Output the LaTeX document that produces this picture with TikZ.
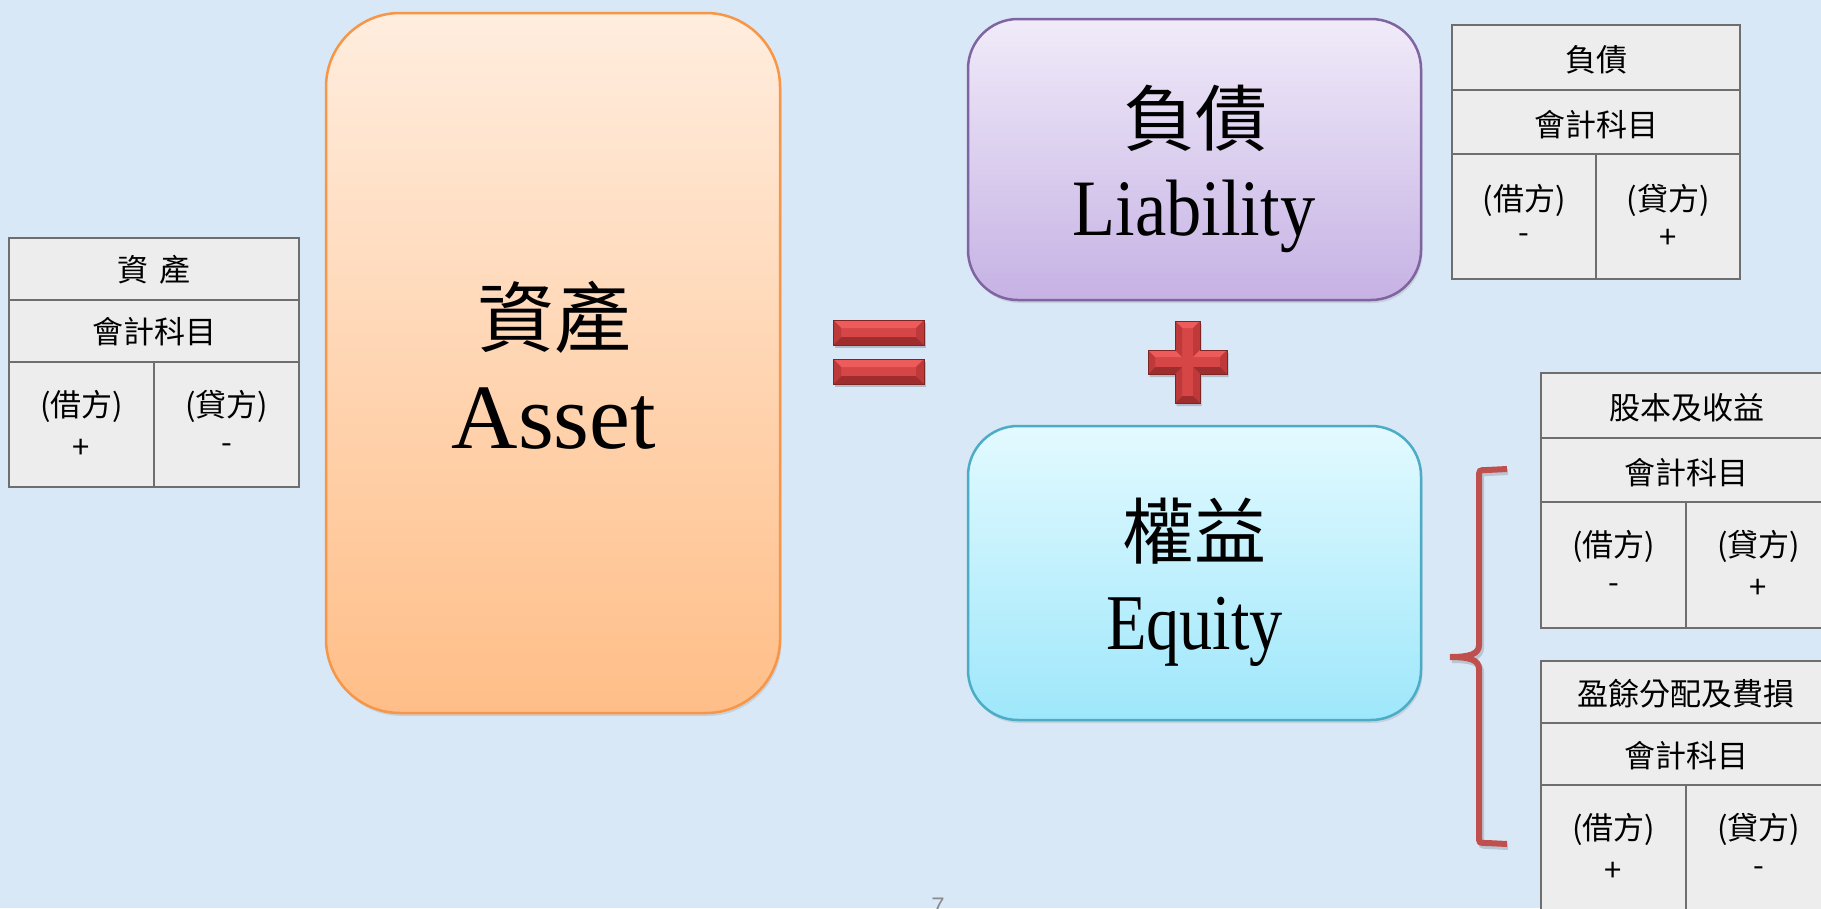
\documentclass[tikz,border=0pt]{standalone}
\usepackage{fontspec}
\newfontfamily\cjkfont{Noto Sans CJK TC}
\newfontfamily\latfont{Liberation Serif}
\newfontfamily\pagefont{Liberation Sans}
\usetikzlibrary{calc,shadows}
\definecolor{bg}{RGB}{217,232,247}
\definecolor{assettop}{RGB}{255,237,222}
\definecolor{assetbot}{RGB}{255,190,136}
\definecolor{assetline}{RGB}{247,150,70}
\definecolor{libtop}{RGB}{240,235,249}
\definecolor{libbot}{RGB}{198,178,228}
\definecolor{libline}{RGB}{128,100,162}
\definecolor{eqtop}{RGB}{227,250,255}
\definecolor{eqbot}{RGB}{158,231,251}
\definecolor{eqline}{RGB}{75,172,198}
\definecolor{cellfill}{RGB}{237,237,237}
\definecolor{cellline}{RGB}{110,110,110}
\definecolor{bracered}{RGB}{192,80,77}
\definecolor{bvlightc}{RGB}{238,91,91}
\definecolor{bvfacec}{RGB}{214,70,70}
\definecolor{bvsidec}{RGB}{190,58,58}
\definecolor{bvdarkc}{RGB}{160,45,45}
\definecolor{bvlinec}{RGB}{126,37,37}
\definecolor{pagegray}{RGB}{140,140,140}
\tikzset{
  bigbox/.style={rectangle, line width=2.5pt, inner sep=0pt,
    drop shadow={opacity=0.22, shadow xshift=1.5pt, shadow yshift=-3pt}},
  assetbox/.style={bigbox, rounded corners=74pt, draw=assetline,
    top color=assettop, bottom color=assetbot,
    minimum width=454pt, minimum height=700pt},
  libbox/.style={bigbox, rounded corners=50pt, draw=libline,
    top color=libtop, bottom color=libbot,
    minimum width=453pt, minimum height=281pt},
  eqbox/.style={bigbox, rounded corners=50pt, draw=eqline,
    top color=eqtop, bottom color=eqbot,
    minimum width=453pt, minimum height=294pt},
  cell/.style={rectangle, draw=cellline, fill=cellfill, line width=2.5pt, inner sep=0pt},
  wide/.style={cell, minimum width=290pt},
  half/.style={cell, minimum width=145pt, minimum height=125pt},
  txt/.style={inner sep=0pt, font={\cjkfont\fontsize{31pt}{31pt}\selectfont}},
  bigzh/.style={inner sep=0pt, font={\cjkfont\fontsize{72pt}{72pt}\selectfont}},
  bigen/.style={inner sep=0pt, anchor=base},
  brace/.style={draw=bracered, line width=6pt},
  bvface/.style={fill=bvfacec},
  bvlight/.style={fill=bvlightc},
  bvside/.style={fill=bvsidec},
  bvdark/.style={fill=bvdarkc},
  bvline/.style={draw=bvlinec, line width=0.8pt},
  bvshadow/.style={fill=black, opacity=0.18}
}
\newcommand\bevelrect[4]{%
  \fill[bvshadow] ($(#1,#2)+(1.5,3)$) rectangle ($(#3,#4)+(1.5,3)$);
  \fill[bvface] (#1,#2) rectangle (#3,#4);
  \fill[bvlight] (#1,#2) -- (#3,#2) -- ($(#3,#2)+(-8,8)$) -- ($(#1,#2)+(8,8)$) -- cycle;
  \fill[bvdark] (#1,#4) -- (#3,#4) -- ($(#3,#4)+(-8,-8)$) -- ($(#1,#4)+(8,-8)$) -- cycle;
  \fill[bvside] (#1,#2) -- ($(#1,#2)+(8,8)$) -- ($(#1,#4)+(8,-8)$) -- (#1,#4) -- cycle;
  \fill[bvside] (#3,#2) -- ($(#3,#2)+(-8,8)$) -- ($(#3,#4)+(-8,-8)$) -- (#3,#4) -- cycle;
  \draw[bvline] (#1,#2) rectangle (#3,#4);
}
\begin{document}
\begin{tikzpicture}[x=1pt,y=-1pt]
\useasboundingbox (0,0) rectangle (1821,908);
\clip (0,0) rectangle (1821,908);
\fill[bg] (0,0) rectangle (1821,908);

% big boxes
\node[assetbox] (asset) at (553,363) {};
\node[libbox] (liab) at (1194.5,159.5) {};
\node[eqbox] (equity) at (1194.5,573) {};

\node[bigzh, font={\cjkfont\fontsize{77pt}{77pt}\selectfont}] (assetzh) at (554,317) {資產};
\node[bigen, font={\latfont\fontsize{92pt}{92pt}\selectfont}] (asseten) at (554,448) {Asset};
\node[bigzh] (liabzh) at (1195,118) {負債};
\node[bigen, font={\latfont\fontsize{80pt}{80pt}\selectfont}] (liaben) at (1194,235) {\scalebox{0.88}[1]{Liability}};
\node[bigzh] (eqzh) at (1194,531) {權益};
\node[bigen, font={\latfont\fontsize{79pt}{79pt}\selectfont}] (eqen) at (1194.5,649) {\scalebox{0.84}[1]{Equity}};

% equals sign
\bevelrect{833}{320}{924}{345}
\bevelrect{833}{359}{924}{384}

% plus sign
\fill[bvshadow] (1176.5,324) -- (1201.5,324) -- (1201.5,353) -- (1228.5,353) -- (1228.5,377) -- (1201.5,377) -- (1201.5,406) -- (1176.5,406) -- (1176.5,377) -- (1149.5,377) -- (1149.5,353) -- (1176.5,353) -- cycle;
\fill[bvface] (1175,321) -- (1200,321) -- (1200,350) -- (1227,350) -- (1227,374) -- (1200,374) -- (1200,403) -- (1175,403) -- (1175,374) -- (1148,374) -- (1148,350) -- (1175,350) -- cycle;
\fill[bvlight] (1175,321) -- (1200,321) -- (1193,328) -- (1182,328) -- cycle;
\fill[bvside] (1200,321) -- (1200,350) -- (1193,357) -- (1193,328) -- cycle;
\fill[bvlight] (1200,350) -- (1227,350) -- (1220,357) -- (1193,357) -- cycle;
\fill[bvside] (1227,350) -- (1227,374) -- (1220,367) -- (1220,357) -- cycle;
\fill[bvdark] (1227,374) -- (1200,374) -- (1193,367) -- (1220,367) -- cycle;
\fill[bvside] (1200,374) -- (1200,403) -- (1193,396) -- (1193,367) -- cycle;
\fill[bvdark] (1200,403) -- (1175,403) -- (1182,396) -- (1193,396) -- cycle;
\fill[bvside] (1175,403) -- (1175,374) -- (1182,367) -- (1182,396) -- cycle;
\fill[bvdark] (1175,374) -- (1148,374) -- (1155,367) -- (1182,367) -- cycle;
\fill[bvside] (1148,374) -- (1148,350) -- (1155,357) -- (1155,367) -- cycle;
\fill[bvlight] (1148,350) -- (1175,350) -- (1182,357) -- (1155,357) -- cycle;
\fill[bvside] (1175,350) -- (1175,321) -- (1182,328) -- (1182,357) -- cycle;
\draw[bvline] (1175,321) -- (1200,321) -- (1200,350) -- (1227,350) -- (1227,374) -- (1200,374) -- (1200,403) -- (1175,403) -- (1175,374) -- (1148,374) -- (1148,350) -- (1175,350) -- cycle;

% left table: asset
\node[wide, minimum height=62pt] (a1) at (154,269) {};
\node[wide, minimum height=62pt] (a2) at (154,331) {};
\node[half] (a3) at (81.5,424.5) {};
\node[half] (a4) at (226.5,424.5) {};
\node[txt] (a1t) at (154,270) {資\hspace{12pt}產};
\node[txt] (a2t) at (154,332) {會計科目};
\node[txt] (a3t) at ($(a3.north)+(0,46)$) {(借方)};
\node[txt] (a3s) at ($(a3.north)+(0,88)$) {+};
\node[txt] (a4t) at ($(a4.north)+(0,46)$) {(貸方)};
\node[txt] (a4s) at ($(a4.north)+(0,88)$) {-};

% liability table
\node[cell, minimum width=288pt, minimum height=65pt] (l1) at (1596,57.5) {};
\node[cell, minimum width=288pt, minimum height=64pt] (l2) at (1596,122) {};
\node[cell, minimum width=144pt, minimum height=125pt] (l3) at (1524,216.5) {};
\node[cell, minimum width=144pt, minimum height=125pt] (l4) at (1668,216.5) {};
\node[txt] (l1t) at (1596,60) {負債};
\node[txt] (l2t) at (1596,125) {會計科目};
\node[txt] (l3t) at ($(l3.north)+(0,48)$) {(借方)};
\node[txt] (l3s) at ($(l3.north)+(0,86)$) {-};
\node[txt] (l4t) at ($(l4.north)+(0,48)$) {(貸方)};
\node[txt] (l4s) at ($(l4.north)+(0,86)$) {+};

% equity table 1
\node[wide, minimum height=65pt] (e1) at (1686,405.5) {};
\node[wide, minimum height=64pt] (e2) at (1686,470) {};
\node[half, minimum height=126pt] (e3) at (1613.5,565) {};
\node[half, minimum height=126pt] (e4) at (1758.5,565) {};
\node[txt] (e1t) at (1687,408) {股本及收益};
\node[txt] (e2t) at (1686,473) {會計科目};
\node[txt] (e3t) at ($(e3.north)+(0,46)$) {(借方)};
\node[txt] (e3s) at ($(e3.north)+(0,88)$) {-};
\node[txt] (e4t) at ($(e4.north)+(0,46)$) {(貸方)};
\node[txt] (e4s) at ($(e4.north)+(0,88)$) {+};

% equity table 2
\node[wide, minimum height=62pt] (f1) at (1686,692) {};
\node[wide, minimum height=62pt] (f2) at (1686,754) {};
\node[half] (f3) at (1613.5,847.5) {};
\node[half] (f4) at (1758.5,847.5) {};
\node[txt] (f1t) at (1686,694) {盈餘分配及費損};
\node[txt] (f2t) at (1686,756) {會計科目};
\node[txt] (f3t) at ($(f3.north)+(0,46)$) {(借方)};
\node[txt] (f3s) at ($(f3.north)+(0,88)$) {+};
\node[txt] (f4t) at ($(f4.north)+(0,46)$) {(貸方)};
\node[txt] (f4s) at ($(f4.north)+(0,88)$) {-};

% brace
\draw[draw=black, opacity=0.15, line width=6pt] (1508,472) -- (1488,473) .. controls (1481,473) .. (1481,481) -- (1481,648) .. controls (1481,657) and (1472,660) .. (1452,660) .. controls (1472,660) and (1481,663) .. (1481,672) -- (1481,839) .. controls (1481,846) .. (1489,846) -- (1508,847);
\draw[brace] (1507,469) -- (1487,470) .. controls (1479,470) .. (1479,478) -- (1479,645) .. controls (1479,654) and (1470,657) .. (1450,657) .. controls (1470,657) and (1479,660) .. (1479,669) -- (1479,836) .. controls (1479,843) .. (1487,843) -- (1507,844);

% page number
\node[anchor=base, inner sep=0pt, text=pagegray, font={\pagefont\fontsize{24pt}{24pt}\selectfont}] (pageno) at (938,914) {7};
\end{tikzpicture}
\end{document}
